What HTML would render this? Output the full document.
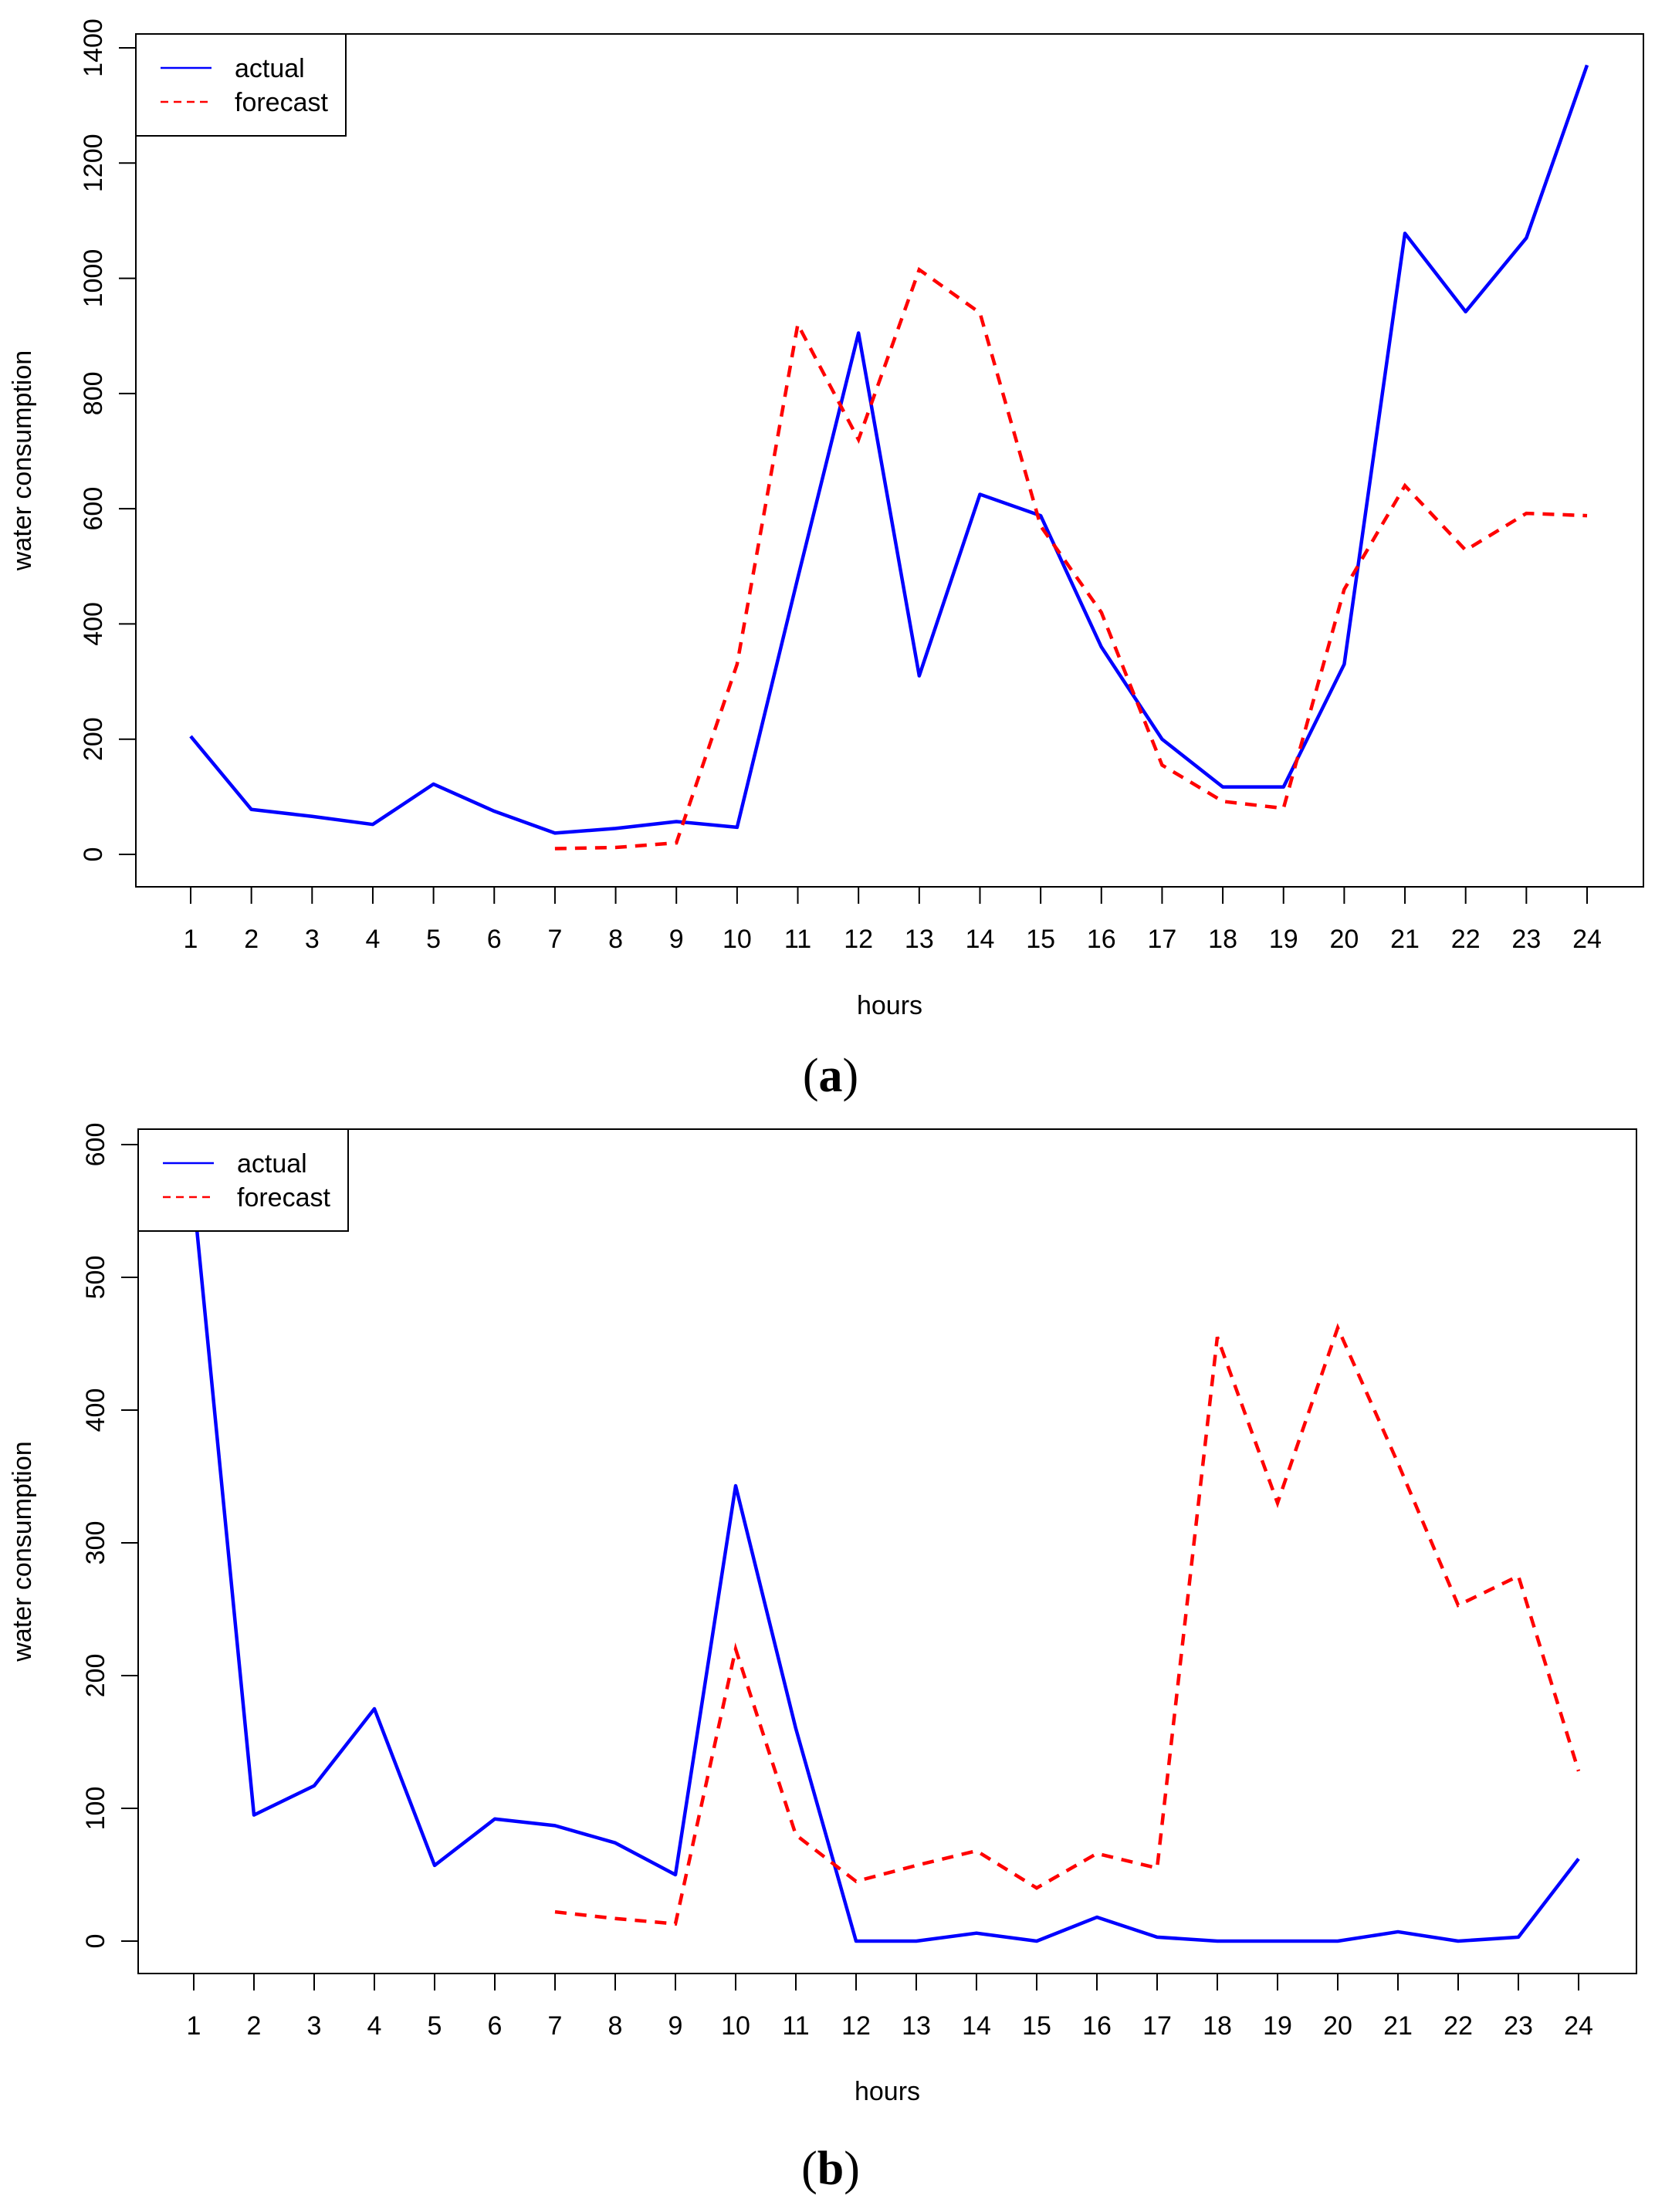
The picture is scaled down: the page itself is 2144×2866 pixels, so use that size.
<!DOCTYPE html>
<html><head><meta charset="utf-8"><style>
html,body{margin:0;padding:0;background:#fff}
svg{display:block;font-family:"Liberation Sans",sans-serif}
</style></head><body>
<svg id="fig" width="2144" height="2866" viewBox="0 0 2144 2866"></svg>
<script>
const hours = [1,2,3,4,5,6,7,8,9,10,11,12,13,14,15,16,17,18,19,20,21,22,23,24];
const actualA = [205,78,66,52,122,75,37,45,57,47,480,905,310,625,588,360,200,117,117,330,1078,942,1070,1370];
const forecastHoursA = [7,8,9,10,11,12,13,14,15,16,17,18,19,20,21,22,23,24];
const forecastA = [10,12,20,330,920,720,1015,940,570,420,155,92,80,460,640,528,592,588];
const yTicksA = [0,200,400,600,800,1000,1200,1400];
const actualB = [560,95,117,175,57,92,87,74,50,343,160,0,0,6,0,18,3,0,0,0,7,0,3,62];
const forecastHoursB = [7,8,9,10,11,12,13,14,15,16,17,18,19,20,21,22,23,24];
const forecastB = [22,17,13,220,80,45,57,68,40,66,55,455,330,462,360,253,275,128];
const yTicksB = [0,100,200,300,400,500,600];

const NS="http://www.w3.org/2000/svg";
const svg=document.getElementById('fig');
function mk(tag,attrs,parent,text){const e=document.createElementNS(NS,tag);for(const k in attrs)e.setAttribute(k,attrs[k]);if(text!==undefined)e.textContent=text;(parent||svg).appendChild(e);return e;}

function chart(cfg){
  const g=mk('g',{},svg);
  
  
  const x=h=>cfg.x1+(h-1)*(cfg.x24-cfg.x1)/23;
  const y=v=>cfg.y0+(v-0)*(cfg.yTop-cfg.y0)/cfg.vTop;
  const pa=hours.map((h,i)=>x(h)+','+y(cfg.actual[i])).join(' ');
  const la=mk('polyline',{points:pa,fill:'none',stroke:'#0000ff','stroke-width':4.5,'stroke-linejoin':'round'},g);
  
  
  const pf=cfg.fh.map((h,i)=>x(h)+','+y(cfg.forecast[i])).join(' ');
  const lf=mk('polyline',{points:pf,fill:'none',stroke:'#ff0000','stroke-width':4.5,'stroke-dasharray':'15 11'},g);
  
  
  const b=mk('rect',{x:cfg.L,y:cfg.T,width:cfg.R-cfg.L,height:cfg.B-cfg.T,fill:'none',stroke:'#000','stroke-width':2},g);
  
  
  hours.forEach(h=>{
    const t=mk('line',{x1:x(h),x2:x(h),y1:cfg.B,y2:cfg.B+22,stroke:'#000','stroke-width':2},g);
    
    
    const l=mk('text',{x:x(h),y:cfg.xlabY,'text-anchor':'middle','font-size':34},g,String(h));
    
    
  });
  cfg.yt.forEach(v=>{
    const t=mk('line',{x1:cfg.L,x2:cfg.L-22,y1:y(v),y2:y(v),stroke:'#000','stroke-width':2},g);
    
    
    const l=mk('text',{x:0,y:0,'text-anchor':'middle','font-size':34,transform:`translate(${cfg.L-44},${y(v)}) rotate(-90)`},g,String(v));
    
    
  });
  const xt=mk('text',{x:(cfg.L+cfg.R)/2,y:cfg.hoursY,'text-anchor':'middle','font-size':34},g,'hours');
  
  
  const yt=mk('text',{x:0,y:0,'text-anchor':'middle','font-size':34,transform:`translate(40,${(cfg.T+cfg.B)/2}) rotate(-90)`},g,'water consumption');
  
  
  const lg=mk('g',{},g);
  
  
  mk('rect',{x:cfg.L,y:cfg.T,width:272,height:132,fill:'#fff',stroke:'#000','stroke-width':2},lg);
  const e1=mk('line',{x1:cfg.L+32,x2:cfg.L+98,y1:cfg.T+44,y2:cfg.T+44,stroke:'#0000ff','stroke-width':2.5},lg);
  
  
  mk('text',{x:cfg.L+128,y:cfg.T+56,'font-size':34},lg,'actual');
  const e2=mk('line',{x1:cfg.L+32,x2:cfg.L+98,y1:cfg.T+88,y2:cfg.T+88,stroke:'#ff0000','stroke-width':2.5,'stroke-dasharray':'10 7'},lg);
  
  
  mk('text',{x:cfg.L+128,y:cfg.T+100,'font-size':34},lg,'forecast');
  const p=mk('text',{x:cfg.capX,y:cfg.capY,'text-anchor':'middle','font-size':62,'font-family':'Liberation Serif, serif'},g);
  
  
  p.innerHTML='(<tspan font-weight="bold">'+cfg.cap+'</tspan>)';
}
chart({name:'chart-a',L:176,T:44,R:2129,B:1149,x1:247,x24:2056,y0:1107,yTop:62,vTop:1400,actual:actualA,fh:forecastHoursA,forecast:forecastA,yt:yTicksA,xlabY:1228,hoursY:1314,capX:1076,capY:1414,cap:'a'});
chart({name:'chart-b',L:179,T:1463,R:2120,B:2557,x1:251,x24:2045,y0:2515,yTop:1483,vTop:600,actual:actualB,fh:forecastHoursB,forecast:forecastB,yt:yTicksB,xlabY:2636,hoursY:2721,capX:1076,capY:2830,cap:'b'});
</script>
</body></html>
